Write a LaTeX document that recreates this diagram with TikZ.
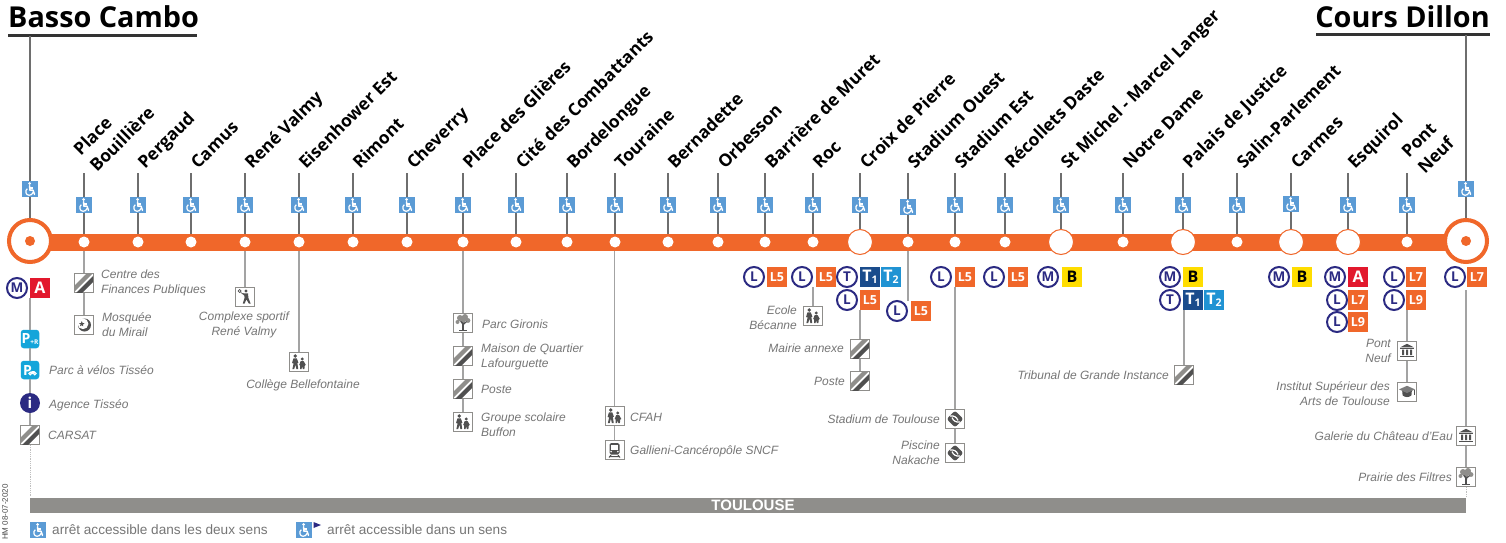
\documentclass[tikz,border=0pt]{standalone}
\usepackage{fontspec}
\setmainfont{Liberation Sans}
\newfontfamily\namefont{Open Sans}
\usetikzlibrary{calc}
\definecolor{ligneor}{HTML}{F0672A}
\definecolor{wblue}{HTML}{5B9BD5}
\definecolor{navy}{HTML}{2B2A82}
\definecolor{redA}{HTML}{E2182D}
\definecolor{yelB}{HTML}{FFDD00}
\definecolor{tone}{HTML}{1A4C8C}
\definecolor{ttwo}{HTML}{2093D3}
\definecolor{sky}{HTML}{14A5DA}
\definecolor{itgray}{HTML}{767676}
\definecolor{icond}{HTML}{505050}
\definecolor{iconl}{HTML}{8F8E8B}
\definecolor{stemc}{HTML}{6E6E6E}
\definecolor{connc}{HTML}{A3A3A3}
\definecolor{barc}{HTML}{8F8E8B}
\newcommand\tsub[1]{\raisebox{-1.6pt}{\fontsize{10.5}{10.5}\selectfont #1}}
\tikzset{
 x=1pt,y=-1pt,
 stname/.style={font=\namefont\bfseries\fontsize{17.3}{23}\selectfont,rotate=45,anchor=base west,inner sep=0pt,align=left,text=black},
 titletxt/.style={font=\namefont\bfseries\fontsize{28.8}{30}\selectfont,inner sep=0pt,anchor=base west,text=black},
 rulel/.style={line width=3pt,draw=black!80},
 stem/.style={draw=stemc,line width=1.4pt},
 conn/.style={draw=connc,line width=1.3pt},
 faint/.style={draw=black!25,line width=0.8pt,densely dotted},
 linebar/.style={rectangle,fill=ligneor,minimum width=1436pt,minimum height=17pt,inner sep=0pt},
 smalldot/.style={circle,fill=white,minimum size=11pt,inner sep=0pt},
 bigdot/.style={circle,fill=white,draw=ligneor,line width=1pt,minimum size=25pt,inner sep=0pt},
 termc/.style={circle,fill=white,draw=ligneor,line width=4pt,minimum size=42pt,inner sep=0pt},
 termdot/.style={circle,fill=ligneor,minimum size=10pt,inner sep=0pt},
 wbox/.style={rectangle,fill=wblue,minimum size=16.5pt,inner sep=0pt},
 rnd/.style={circle,draw=navy,line width=2pt,fill=white,minimum size=20pt,inner sep=0pt,text=navy,font=\namefont\bfseries\fontsize{13.5}{13.5}\selectfont},
 sq/.style={rectangle,minimum size=19.5pt,inner sep=0pt,font=\namefont\bfseries\fontsize{12.5}{12.5}\selectfont,text=white},
 lfive/.style={sq,fill=ligneor},
 sqA/.style={sq,fill=redA,font=\namefont\bfseries\fontsize{16}{16}\selectfont},
 sqB/.style={sq,fill=yelB,text=black,font=\namefont\bfseries\fontsize{16}{16}\selectfont},
 sqTa/.style={sq,fill=tone,font=\namefont\bfseries\fontsize{16}{16}\selectfont},
 sqTb/.style={sq,fill=ttwo,font=\namefont\bfseries\fontsize{16}{16}\selectfont},
 parkb/.style={rectangle,rounded corners=3pt,fill=sky,minimum size=18.5pt,inner sep=0pt,text=white,font=\namefont\bfseries\fontsize{14}{14}\selectfont},
 infob/.style={circle,fill=navy,minimum size=20pt,inner sep=0pt,text=white,font=\namefont\bfseries\fontsize{15}{15}\selectfont},
 fr/.style={rectangle,draw=iconl,line width=0.9pt,fill=white,minimum size=19pt,inner sep=0pt},
 lab/.style={font=\itshape\fontsize{12}{15}\selectfont,text=itgray,inner sep=0pt},
 labl/.style={lab,anchor=west,align=left},
 labr/.style={lab,anchor=east,align=right},
 labc/.style={lab,align=center},
 legend/.style={font=\fontsize{13.6}{15}\selectfont,text=itgray,inner sep=0pt,anchor=west},
 wheel/.pic={
  \fill[white] (-0.4,-5.6) circle (1.5);
  \draw[white,line width=1.5pt,line join=round,line cap=round] (-0.4,-3.2) -- (-0.1,1.2) -- (3,1.2) -- (4.5,5.3);
  \draw[white,line width=1.2pt] (-0.3,-1) -- (2.8,-1);
  \draw[white,line width=1.2pt] (-2.7,-0.3) .. controls (-5.2,1.4) and (-4.4,6.3) .. (-0.9,6.3) .. controls (1,6.3) and (2.4,5.2) .. (2.9,3.5);
 },
 hatchicon/.pic={
  \begin{scope}
  \clip (-9,-9) rectangle (9,9);
  \fill[iconl] (-10,3) -- (3,-10) -- (9,-10) -- (-10,9) -- cycle;
  \fill[icond] (-10,12) -- (12,-10) -- (18,-10) -- (-10,18) -- cycle;
  \end{scope}
 },
 schoolicon/.pic={
  \fill[icond] (-3.8,-6) circle (1.9) (3.2,-3) circle (1.6);
  \fill[icond] (-5.5,-3.6) -- (-2.2,-3.6) -- (-0.6,0.6) -- (-1.6,1) -- (-0.8,7) -- (-2.6,7) -- (-3.6,2.8) -- (-4.8,7) -- (-6.6,7) -- (-5.4,1.5) -- (-7,1) -- cycle;
  \fill[icond] (1.7,-1) -- (4.6,-1) -- (6.8,3) -- (5.8,3.4) -- (5.4,7) -- (3.8,7) -- (3.2,4.2) -- (2.5,7) -- (1,7) -- (1.2,3.4) -- (0.2,3) -- cycle;
 },
 treeicon/.pic={
  \fill[iconl] (-3,-5) circle (3) (2,-6) circle (3) (5,-2.5) circle (2.4) (-5.5,-1) circle (2) (0,-2.5) circle (2.8);
  \fill[icond] (-0.9,7) -- (0.9,7) -- (1,1.5) -- (4,-1) -- (3.4,-1.6) -- (0.6,0) -- (-2,-2) -- (-2.8,-1.4) -- (-0.8,1.2) -- cycle;
  \fill[icond] (-4,7) rectangle (4,8);
 },
 museumicon/.pic={
  \fill[icond] (-7,-3.6) -- (0,-7.2) -- (7,-3.6) -- cycle;
  \fill[icond] (-7,-3) rectangle (7,-1.8);
  \fill[icond] (-5,-1.4) rectangle (-3,4) (-1,-1.4) rectangle (1,4) (3,-1.4) rectangle (5,4);
  \fill[icond] (-7,4.6) rectangle (7,6.2);
 },
 mosqueicon/.pic={
  \fill[icond] (0.5,0) circle (6.5);
  \fill[white] (-1,-1.2) circle (5.4);
  \fill[icond] (-2.2,-4) -- (-1.4,-2) -- (0.6,-1.6) -- (-1,-0.6) -- (-0.8,1.4) -- (-2.2,0.2) -- (-4,1.2) -- (-3.4,-0.8) -- (-5,-1.8) -- (-3,-2) -- cycle;
 },
 sporticon/.pic={
  \fill[icond] (1,-6) circle (1.7);
  \fill[icond] (-1,-3.6) -- (3,-3.6) -- (3.4,1) -- (5.6,6.5) -- (3.8,6.5) -- (1.4,2.4) -- (-0.4,6.5) -- (-2.2,6.5) -- (-0.4,0.6) -- (-0.8,-1.6) -- (-3,-3.2) -- (-2.4,-4) -- cycle;
  \draw[icond,line width=0.6pt] (-3,-3.6) -- (-4.4,-4.8);
  \draw[icond,line width=0.6pt] (-5.4,-6) circle (1.5);
 },
 trainicon/.pic={
  \fill[icond,rounded corners=1.6pt] (-5,-7) rectangle (5,4.5);
  \fill[white] (-3.6,-4.6) rectangle (3.6,-0.4);
  \fill[white] (-3.4,1.6) circle (0.9) (3.4,1.6) circle (0.9);
  \draw[icond,line width=1pt] (-3.5,5) -- (-5.5,7.5) (3.5,5) -- (5.5,7.5) (-4.4,6.6) -- (4.4,6.6);
 },
 stadiumicon/.pic={
  \fill[icond,rounded corners=2.5pt] (0,-8.4) -- (8.4,0) -- (0,8.4) -- (-8.4,0) -- cycle;
  \draw[white,line width=1.2pt] (-5,-3) .. controls (-1,-3.6) and (1.5,-2) .. (3,1.4);
  \draw[white,line width=1.2pt] (-3,-1.4) .. controls (-1.5,2) and (1,3.6) .. (5,3);
 },
 capicon/.pic={
  \fill[icond] (-4.8,-1) -- (4.8,-1) -- (4.4,3.4) .. controls (2,5.6) and (-2,5.6) .. (-4.4,3.4) -- cycle;
  \fill[icond!75] (-8,-2.6) -- (0,-6.2) -- (8,-2.6) -- (0,1) -- cycle;
  \draw[icond,line width=0.7pt] (7,-2.4) -- (7,3);
 },
 bikeglyph/.pic={
  \draw[white,line width=0.8pt] (-3.6,0) circle (2.4) (3.6,0) circle (2.4) (-3.6,0) -- (-1,-3) -- (2.4,-3) -- (3.6,0) (-1,-3) -- (0,0) -- (2.4,-3);
 },
}
\newcommand\stationset[6]{%
 \coordinate (top#1) at (#2,173);
 \node[wbox] (w#1) at (#2,#3) {};
 \pic at (w#1) {wheel};
 \draw[stem] (top#1) -- (w#1.north);
 \draw[stem] (w#1.south) -- (w#1.south |- ligne.north);
 \node[smalldot] (d#1) at (#2,242) {};
 \node[stname] (n#1) at (#4,#5) {#6};
}
\begin{document}
\begin{tikzpicture}
\useasboundingbox (0,0) rectangle (1506,543);
\fill[white] (0,0) rectangle (1506,543);
% main line
\node[linebar] (ligne) at (748,242.5) {};
% titles
\node[titletxt] (tL) at (8,28) {Basso Cambo};
\node[titletxt,anchor=base east] (tR) at (1490,28) {Cours Dillon};
\coordinate (ruleLa) at (8,36);
\coordinate (ruleLb) at (197,36);
\coordinate (ruleRa) at (1316,35);
\coordinate (ruleRb) at (1490,35);
\draw[rulel] (ruleLa) -- (ruleLb);
\draw[rulel] (ruleRa) -- (ruleRb);
\coordinate (topL) at (30,36);
\coordinate (topR) at (1466,35);
% stations
\stationset{1}{84}{205}{97}{173}{Place\\Bouillière}
\stationset{2}{138}{205}{145}{170}{Pergaud}
\stationset{3}{191}{205}{198}{170}{Camus}
\stationset{4}{245}{205}{252}{170}{René Valmy}
\stationset{5}{299}{205}{306}{170}{Eisenhower Est}
\stationset{6}{353}{205}{360}{170}{Rimont}
\stationset{7}{407}{205}{414}{170}{Cheverry}
\stationset{8}{463}{205}{470}{170}{Place des Glières}
\stationset{9}{516}{205}{523}{170}{Cité des Combattants}
\stationset{10}{567}{205}{574}{170}{Bordelongue}
\stationset{11}{615}{205}{622}{170}{Touraine}
\stationset{12}{668}{205}{675}{170}{Bernadette}
\stationset{13}{718}{205}{725}{170}{Orbesson}
\stationset{14}{765}{205}{772}{170}{Barrière de Muret}
\stationset{15}{813}{205}{820}{170}{Roc}
\stationset{16}{860}{205}{867}{170}{Croix de Pierre}
\stationset{17}{908}{207}{915}{170}{Stadium Ouest}
\stationset{18}{955}{205}{962}{170}{Stadium Est}
\stationset{19}{1005}{205}{1012}{170}{Récollets Daste}
\stationset{20}{1061}{205}{1068}{170}{St Michel - Marcel Langer}
\stationset{21}{1123}{205}{1130}{170}{Notre Dame}
\stationset{22}{1183}{205}{1190}{170}{Palais de Justice}
\stationset{23}{1237}{205}{1244}{170}{Salin-Parlement}
\stationset{24}{1291}{204}{1298}{170}{Carmes}
\stationset{25}{1348}{205}{1355}{170}{Esquirol}
\stationset{26}{1407}{205}{1425}{175}{Pont\\Neuf}
\node[bigdot] (big16) at (d16) {};
\node[bigdot] (big20) at (d20) {};
\node[bigdot] (big22) at (d22) {};
\node[bigdot] (big24) at (d24) {};
\node[bigdot] (big25) at (d25) {};
% termini
\node[termc] (cL) at (30,241) {};
\node[termdot] (cLd) at (cL) {};
\node[termc] (cR) at (1466,241) {};
\node[termdot] (cRd) at (cR) {};
\node[wbox] (wL) at (30,189) {};
\pic at (wL) {wheel};
\node[wbox] (wR) at (1466,189) {};
\pic at (wR) {wheel};
\draw[stem] (topL) -- (wL.north);
\draw[stem] (wL.south) -- (cL.north);
\draw[stem] (topR) -- (wR.north);
\draw[stem] (wR.south) -- (cR.north);
% Basso Cambo column
\node[rnd] (bM1) at (17,288) {M};
\node[sqA] (bA1) at (40,288) {A};
\node[parkb] (pr) at (30,339) {P\raisebox{-1pt}{\fontsize{6.5}{6.5}\selectfont +R}};
\node[parkb] (pb) at (30,370) {\hspace{-5pt}P};
\pic[scale=0.62] at (32.5,373.5) {bikeglyph};
\node[infob] (inf) at (30,403) {i};
\node[fr] (fCar) at (30,435) {};
\pic at (fCar) {hatchicon};
\coordinate (conL) at (30,298);
\coordinate (endL) at (30,497);
\draw[conn] (conL) -- (pr.north);
\draw[conn] (pr.south) -- (pb.north);
\draw[conn] (pb.south) -- (inf.north);
\draw[conn] (inf.south) -- (fCar.north);
\draw[faint] (fCar.south) -- (endL);
\node[labl] (tPb) at (49,370) {Parc à vélos Tisséo};
\node[labl] (tAg) at (49,405) {Agence Tisséo};
\node[labl] (tCa) at (48,435) {CARSAT};
% Place Bouillière
\node[fr] (f1a) at (84,283) {};
\pic at (f1a) {hatchicon};
\node[fr] (f1b) at (84,325) {};
\pic at (f1b) {mosqueicon};
\draw[conn] (ligne.south -| f1a) -- (f1a.north);
\draw[conn] (f1a.south) -- (f1b.north);
\node[labl] (tCf) at (101,282.5) {Centre des\\Finances Publiques};
\node[labl] (tMo) at (102,325) {Mosquée\\du Mirail};
% René Valmy
\node[fr] (f4) at (245,297) {};
\pic at (f4) {sporticon};
\draw[conn] (ligne.south -| f4) -- (f4.north);
\node[labc] (tCo) at (244,325) {Complexe sportif\\René Valmy};
% Eisenhower
\node[fr] (f5) at (299,362) {};
\pic at (f5) {schoolicon};
\draw[conn] (ligne.south -| f5) -- (f5.north);
\node[labc] (tCb) at (303,385) {Collège Bellefontaine};
% Place des Glières
\node[fr] (f8a) at (463,323) {};
\pic at (f8a) {treeicon};
\node[fr] (f8b) at (463,356) {};
\pic at (f8b) {hatchicon};
\node[fr] (f8c) at (463,389) {};
\pic at (f8c) {hatchicon};
\node[fr] (f8d) at (463,422) {};
\pic at (f8d) {schoolicon};
\draw[conn] (ligne.south -| f8a) -- (f8a.north);
\draw[conn] (f8a.south) -- (f8b.north);
\draw[conn] (f8b.south) -- (f8c.north);
\draw[conn] (f8c.south) -- (f8d.north);
\node[labl] (tPg) at (482,324) {Parc Gironis};
\node[labl] (tMq) at (481,356.5) {Maison de Quartier\\Lafourguette};
\node[labl] (tPo) at (481,389) {Poste};
\node[labl] (tGs) at (481,424.5) {Groupe scolaire\\Buffon};
% Touraine
\node[fr] (f11a) at (614.5,416) {};
\pic at (f11a) {schoolicon};
\node[fr] (f11b) at (614.5,450) {};
\pic at (f11b) {trainicon};
\draw[conn] (ligne.south -| f11a) -- (f11a.north);
\draw[conn] (f11a.south) -- (f11b.north);
\node[labl] (tCf2) at (630,417) {CFAH};
\node[labl] (tGa) at (630,451) {Gallieni-Cancéropôle SNCF};
% Barrière de Muret
\node[rnd] (b14L) at (754,277) {L};
\node[lfive] (b14n) at (777,277) {L5};
% Roc
\node[rnd] (b15L) at (802,277) {L};
\node[lfive] (b15n) at (826,277) {L5};
\node[fr] (f15) at (813,316) {};
\pic at (f15) {schoolicon};
\coordinate (a15) at (813,287);
\draw[conn] (a15) -- (f15.north);
\node[labr] (tEc) at (797,317.5) {Ecole\\Bécanne};
% Croix de Pierre
\node[rnd] (b16T) at (847,277) {T};
\node[sqTa] (b16a) at (870,277) {T\tsub{1}};
\node[sqTb] (b16b) at (891,277) {T\tsub{2}};
\node[rnd] (b16L) at (847,300) {L};
\node[lfive] (b16n) at (870,300) {L5};
\node[fr] (f16a) at (860,349) {};
\pic at (f16a) {hatchicon};
\node[fr] (f16b) at (860,381) {};
\pic at (f16b) {hatchicon};
\draw[conn] (f16a |- b16n.south) -- (f16a.north);
\draw[conn] (f16a.south) -- (f16b.north);
\node[labr] (tMa) at (844,348) {Mairie annexe};
\node[labr] (tPo2) at (845,381) {Poste};
% Stadium Ouest
\node[rnd] (b17L) at (897,311) {L};
\node[lfive] (b17n) at (921,311) {L5};
\draw[conn] (ligne.south -| d17) -- (d17 |- b17n.north);
% Stadium Est
\node[rnd] (b18L) at (941,277) {L};
\node[lfive] (b18n) at (965,277) {L5};
\node[fr] (f18a) at (955,419) {};
\pic at (f18a) {stadiumicon};
\node[fr] (f18b) at (955,453) {};
\pic at (f18b) {stadiumicon};
\draw[conn] (f18a |- b18n.south) -- (f18a.north);
\draw[conn] (f18a.south) -- (f18b.north);
\node[labr] (tSd) at (940,419) {Stadium de Toulouse};
\node[labr] (tPi) at (940,452.5) {Piscine\\Nakache};
% Récollets
\node[rnd] (b19L) at (994,277) {L};
\node[lfive] (b19n) at (1018,277) {L5};
% St Michel
\node[rnd] (b20M) at (1048,277) {M};
\node[sqB] (b20n) at (1072,277) {B};
% Palais de Justice
\node[rnd] (b22M) at (1170,277) {M};
\node[sqB] (b22n) at (1193,277) {B};
\node[rnd] (b22T) at (1170,300) {T};
\node[sqTa] (b22a) at (1193,300) {T\tsub{1}};
\node[sqTb] (b22b) at (1214,300) {T\tsub{2}};
\node[fr] (f22) at (1184,375) {};
\pic at (f22) {hatchicon};
\draw[conn] (f22 |- b22a.south) -- (f22.north);
\node[labr] (tTr) at (1169,375) {Tribunal de Grande Instance};
% Carmes
\node[rnd] (b24M) at (1279,277) {M};
\node[sqB] (b24n) at (1302,277) {B};
% Esquirol
\node[rnd] (b25M) at (1335,277) {M};
\node[sqA] (b25n) at (1358,277) {A};
\node[rnd] (b25L) at (1337,300) {L};
\node[lfive] (b25a) at (1358,300) {L7};
\node[rnd] (b25P) at (1337,322) {L};
\node[lfive] (b25b) at (1358,322) {L9};
% Pont Neuf
\node[rnd] (b26L) at (1394,277) {L};
\node[lfive] (b26n) at (1416,277) {L7};
\node[rnd] (b26P) at (1394,300) {L};
\node[lfive] (b26b) at (1416,300) {L9};
\node[fr] (f26a) at (1407,351) {};
\pic at (f26a) {museumicon};
\node[fr] (f26b) at (1407,392) {};
\pic at (f26b) {capicon};
\draw[conn] (f26a |- b26b.south) -- (f26a.north);
\draw[conn] (f26a.south) -- (f26b.north);
\node[labr] (tPn) at (1391,351) {Pont\\Neuf};
\node[labr] (tIn) at (1390,393.5) {Institut Supérieur des\\Arts de Toulouse};
% Cours Dillon
\node[rnd] (bRL) at (1455,277) {L};
\node[lfive] (bRn) at (1477,277) {L7};
\node[fr] (fRa) at (1466,436) {};
\pic at (fRa) {museumicon};
\node[fr] (fRb) at (1466,477) {};
\pic at (fRb) {treeicon};
\coordinate (conR) at (1466,290);
\coordinate (endR) at (1466,497);
\draw[conn] (conR) -- (fRa.north);
\draw[conn] (fRa.south) -- (fRb.north);
\draw[faint] (fRb.south) -- (endR);
\node[labr] (tGl) at (1453,436) {Galerie du Château d'Eau};
\node[labr] (tPf) at (1452,477) {Prairie des Filtres};
% bar
\node[rectangle,fill=barc,minimum width=1436pt,minimum height=15pt,inner sep=0pt,text=white,font=\bfseries\fontsize{15}{15}\selectfont] (bar) at (748,505) {\hspace*{10pt}TOULOUSE};
% legend
\node[wbox] (lg1) at (38,530) {};
\pic at (lg1) {wheel};
\node[legend] (lgt1) at (52,530) {arrêt accessible dans les deux sens};
\node[wbox] (lg2) at (304,530) {};
\pic at (lg2) {wheel};
\fill[navy] (313.5,522) -- (321,525) -- (313.5,528) -- cycle;
\node[legend] (lgt2) at (327,530) {arrêt accessible dans un sens};
\node[font=\fontsize{8}{8}\selectfont,text=black!70,rotate=90,inner sep=0pt,anchor=west] (hm) at (5,540) {HM 08-07-2020};
\end{tikzpicture}
\end{document}
